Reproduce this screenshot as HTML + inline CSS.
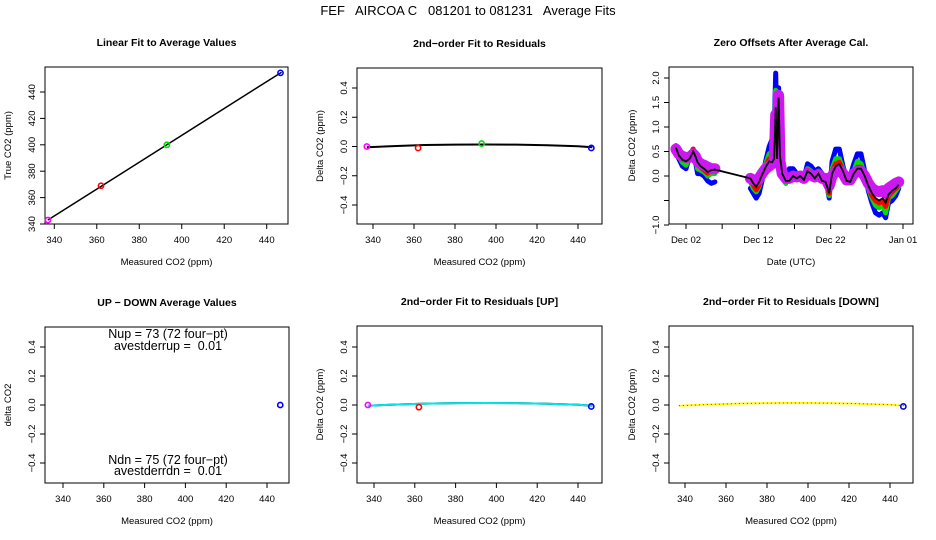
<!DOCTYPE html>
<html><head><meta charset="utf-8"><style>
html,body{margin:0;padding:0;background:#fff;}
svg{display:block;font-family:"Liberation Sans",sans-serif;}
</style></head><body>
<svg id="c" width="936" height="540" viewBox="0 0 936 540">
<defs>
<pattern id="hatch" width="3" height="3" patternUnits="userSpaceOnUse">
<rect width="3" height="3" fill="#ff00ff"/><rect width="1.5" height="1.5" fill="#9a30e0"/><rect x="1.5" y="1.5" width="1.5" height="1.5" fill="#9a30e0"/>
</pattern>
</defs>
<text x="468" y="15" text-anchor="middle" font-size="13" style="white-space:pre" xml:space="preserve">FEF   AIRCOA C   081201 to 081231   Average Fits</text>
</svg>
<script>
// ---- data ----
var p1X = [337, 362, 393, 446.5];
var p1Y = [343, 369, 400, 454.5];
var p1Colors = ['#ff00ff', '#ff0000', '#00dd00', '#0000ff'];
var p1FitX = [337, 447];
var p1FitY = [343, 455];

var resX = [337, 362, 393, 446.5];
var resY = [0.0, -0.01, 0.02, -0.01];
var fitX = [337, 350, 365, 380, 395, 410, 425, 440, 447];
var fitY = [-0.005, 0.003, 0.010, 0.013, 0.014, 0.013, 0.009, 0.002, -0.005];

var upX = [337, 362, 446.5];
var upY = [0.0, -0.015, -0.01];
var upColors = ['#ff00ff', '#ff0000', '#0000ff'];
var dnX = [446.5];
var dnY = [-0.01];
var udX = [446.5];
var udY = [0.0];

var T = [0.6,1.0,1.5,2.0,2.5,3.0,3.3,3.6,4.0,4.5,5.0,5.5,6.0,10.9,11.3,11.7,12.1,12.5,13.0,13.5,13.9,14.2,14.4,14.6,14.8,15.0,15.3,15.8,16.3,16.8,17.3,17.8,18.3,18.8,19.3,19.8,20.3,20.8,21.3,21.8,22.2,22.7,23.2,23.7,24.2,24.7,25.2,25.7,26.2,26.7,27.2,27.7,28.2,28.7,29.2,29.6,30.0,30.5,31.0,31.4];
var blackS = [0.58,0.42,0.33,0.30,0.35,0.50,0.40,0.28,0.20,0.15,0.08,0.12,0.13,-0.05,-0.15,-0.22,-0.12,0.02,0.18,0.30,0.28,0.35,1.40,0.35,1.60,0.40,0.05,-0.10,-0.10,0.00,-0.05,0.00,-0.08,0.10,0.05,-0.05,0.05,-0.10,-0.12,-0.35,0.05,0.20,0.25,0.10,-0.10,-0.12,0.05,0.15,0.15,0.00,-0.20,-0.35,-0.45,-0.50,-0.45,-0.55,-0.38,-0.30,-0.25,-0.18];
var blueS = [0.50,0.35,0.20,0.15,0.40,0.55,0.30,0.05,0.05,0.00,-0.10,-0.15,-0.12,-0.25,-0.35,-0.45,-0.35,-0.10,0.30,0.60,0.75,0.90,2.10,0.50,1.80,0.35,0.00,-0.15,0.15,0.15,0.05,0.05,-0.05,0.25,0.20,0.10,0.15,0.05,-0.05,-0.45,0.30,0.55,0.55,0.20,-0.05,0.00,0.25,0.45,0.45,0.10,-0.30,-0.55,-0.75,-0.80,-0.75,-0.85,-0.55,-0.50,-0.40,-0.25];
var greenS = [0.55,0.40,0.28,0.22,0.38,0.52,0.35,0.15,0.12,0.08,0.00,0.05,0.05,-0.12,-0.25,-0.32,-0.22,-0.02,0.25,0.45,0.50,0.55,1.75,0.40,1.65,0.35,0.02,-0.15,0.00,0.05,0.00,0.03,-0.05,0.15,0.10,0.00,0.10,-0.05,-0.10,-0.40,0.15,0.35,0.35,0.15,-0.08,-0.08,0.10,0.30,0.25,0.05,-0.25,-0.45,-0.60,-0.65,-0.60,-0.75,-0.45,-0.40,-0.30,-0.22];
var redS = [0.62,0.48,0.38,0.32,0.40,0.55,0.40,0.25,0.18,0.12,0.06,0.10,0.10,-0.08,-0.18,-0.28,-0.18,0.00,0.20,0.35,0.35,0.40,1.55,0.35,1.60,0.35,0.05,-0.10,-0.05,0.03,0.00,0.02,-0.05,0.12,0.08,0.00,0.08,-0.05,-0.10,-0.35,0.10,0.25,0.28,0.12,-0.08,-0.10,0.08,0.18,0.18,0.02,-0.22,-0.40,-0.50,-0.55,-0.50,-0.62,-0.40,-0.32,-0.25,-0.20];
var magS = [0.55,0.45,0.40,0.38,0.38,0.45,0.40,0.30,0.25,0.22,0.18,0.15,0.15,-0.05,-0.08,-0.10,-0.05,0.05,0.15,0.20,0.25,0.30,1.25,0.30,1.65,0.30,0.05,-0.05,-0.05,0.00,-0.02,0.00,-0.05,0.05,0.02,-0.02,0.03,-0.05,-0.05,-0.20,0.00,0.10,0.12,0.05,-0.08,-0.08,0.05,0.10,0.10,0.00,-0.15,-0.25,-0.30,-0.32,-0.30,-0.35,-0.25,-0.20,-0.15,-0.12];
var gapAfter = 6.0;

var co2Ticks = [340, 360, 380, 400, 420, 440];
var trueTicks = [340, 360, 380, 400, 420, 440];
var resTicks = [-0.4, -0.2, 0.0, 0.2, 0.4];
var resTickLabels = ['\u22120.4', '\u22120.2', '0.0', '0.2', '0.4'];
var offTicks = [-1.0, -0.5, 0.0, 0.5, 1.0, 1.5, 2.0];
var offTickLabels = ['\u22121.0', '', '0.0', '0.5', '1.0', '1.5', '2.0'];
var dateTicks = [2, 7, 12, 17, 22, 27, 32];
var dateTickLabels = ['Dec 02', '', 'Dec 12', '', 'Dec 22', '', 'Jan 01'];

// ---- helpers ----
var svg = document.getElementById('c');
var NS = 'http://www.w3.org/2000/svg';
function mk(tag, attrs, parent) {
  var e = document.createElementNS(NS, tag);
  for (var k in attrs) e.setAttribute(k, attrs[k]);
  (parent || svg).appendChild(e);
  return e;
}
function lin(v0, p0, v1, p1) { return function (v) { return p0 + (v - v0) * (p1 - p0) / (v1 - v0); }; }

function panel(o) {
  var g = mk('g', {});
  
  
  var box = mk('rect', {x: o.l, y: o.t, width: o.r - o.l, height: o.b - o.t, fill: 'none', stroke: '#000', 'stroke-width': 1}, g);
  
  
  var cx = (o.l + o.r) / 2;
  var tt = mk('text', {x: cx, y: o.t - 21, 'text-anchor': 'middle', 'font-size': 10.5, 'font-weight': 'bold'}, g);
  tt.textContent = o.title;
  
  
  var xa = mk('g', {}, g);
  
  
  o.xt.forEach(function (v, i) {
    var px = o.sx(v);
    mk('line', {x1: px, x2: px, y1: o.b, y2: o.b + 5, stroke: '#000'}, xa);
    var lab = o.xl ? o.xl[i] : String(v);
    if (lab) {
      var t = mk('text', {x: px, y: o.b + 19, 'text-anchor': 'middle', 'font-size': 9.5}, xa);
      t.textContent = lab;
      
      
    }
  });
  var xt = mk('text', {x: cx, y: o.b + 41, 'text-anchor': 'middle', 'font-size': 9.5}, g);
  xt.textContent = o.xtitle;
  
  
  var ya = mk('g', {}, g);
  
  
  o.yt.forEach(function (v, i) {
    var py = o.sy(v);
    mk('line', {x1: o.l - 5, x2: o.l, y1: py, y2: py, stroke: '#000'}, ya);
    var lab = o.yl ? o.yl[i] : String(v);
    if (lab) {
      var t = mk('text', {x: o.l - 10, y: py, 'text-anchor': 'middle', 'font-size': 9.5, transform: 'rotate(-90 ' + (o.l - 10) + ' ' + py + ')'}, ya);
      t.textContent = lab;
      
      
    }
  });
  var ymid = (o.t + o.b) / 2;
  var yx = o.l - 34;
  var yt = mk('text', {x: yx, y: ymid, 'text-anchor': 'middle', 'font-size': 9.5, transform: 'rotate(-90 ' + yx + ' ' + ymid + ')'}, g);
  yt.textContent = o.ytitle;
  
  
  return g;
}
function pts(xs, ys, sx, sy) { return xs.map(function (x, i) { return sx(x).toFixed(1) + ',' + sy(ys[i]).toFixed(1); }).join(' '); }
function circles(g, xs, ys, cols, sx, sy, name) {
  xs.forEach(function (x, i) {
    var c = mk('circle', {cx: sx(x), cy: sy(ys[i]), r: 2.6, fill: 'none', stroke: cols[i], 'stroke-width': 1.6}, g);
    
    
  });
}

// ---- panel 1 ----
var s1x = lin(340, 54.3, 440, 266.7), s1y = lin(340, 224, 440, 92);
var g1 = panel({name: 'linear-fit-panel', l: 45, r: 288, t: 67, b: 224, sx: s1x, sy: s1y, xt: co2Ticks, yt: trueTicks,
  title: 'Linear Fit to Average Values', xtitle: 'Measured CO2 (ppm)', ytitle: 'True CO2 (ppm)'});
var fl1 = mk('polyline', {points: pts(p1FitX, p1FitY, s1x, s1y), fill: 'none', stroke: '#000', 'stroke-width': 1.5}, g1);


circles(g1, p1X, p1Y, p1Colors, s1x, s1y, 'average-point');

// ---- panel 2 ----
var s2x = lin(340, 373, 440, 578), s2y = lin(-0.4, 205, 0.4, 88);
var g2 = panel({name: 'residual-fit-panel', l: 357, r: 602, t: 68, b: 224, sx: s2x, sy: s2y, xt: co2Ticks, yt: resTicks, yl: resTickLabels,
  title: '2nd\u2212order Fit to Residuals', xtitle: 'Measured CO2 (ppm)', ytitle: 'Delta CO2 (ppm)'});
var fl2 = mk('polyline', {points: pts(fitX, fitY, s2x, s2y), fill: 'none', stroke: '#000', 'stroke-width': 2}, g2);


circles(g2, resX, resY, p1Colors, s2x, s2y, 'residual-point');

// ---- panel 3 ----
var s3x = lin(2, 686, 32, 903), s3y = lin(0, 176, 2, 78);
var g3 = panel({name: 'zero-offsets-panel', l: 669, r: 913, t: 67, b: 224, sx: s3x, sy: s3y, xt: dateTicks, xl: dateTickLabels, yt: offTicks, yl: offTickLabels,
  title: 'Zero Offsets After Average Cal.', xtitle: 'Date (UTC)', ytitle: 'Delta CO2 (ppm)'});
function segPts(ys, seg) {
  var a = [];
  T.forEach(function (t, i) { if ((seg === 0 && t <= gapAfter) || (seg === 1 && t > gapAfter)) a.push(s3x(t).toFixed(1) + ',' + s3y(ys[i]).toFixed(1)); });
  return a.join(' ');
}
[['blue-offset-series', blueS, '#0000ff', 5], ['green-offset-series', greenS, '#00dd00', 5], ['red-offset-series', redS, '#ff0000', 5], ['magenta-offset-series', magS, 'url(#hatch)', 11]].forEach(function (s) {
  [0, 1].forEach(function (seg) {
    var pl = mk('polyline', {points: segPts(s[1], seg), fill: 'none', stroke: s[2], 'stroke-width': s[3], 'stroke-linejoin': 'round', 'stroke-linecap': 'round'}, g3);
    
    
  });
});
var bl = mk('polyline', {points: pts(T, blackS, s3x, s3y), fill: 'none', stroke: '#000', 'stroke-width': 1.8}, g3);



// ---- panel 4 ----
var s4x = lin(340, 63, 440, 267), s4y = lin(-0.4, 463, 0.4, 347);
var g4 = panel({name: 'up-down-panel', l: 45, r: 289, t: 327, b: 483, sx: s4x, sy: s4y, xt: co2Ticks, yt: resTicks, yl: resTickLabels,
  title: 'UP \u2212 DOWN Average Values', xtitle: 'Measured CO2 (ppm)', ytitle: 'delta CO2'});
circles(g4, udX, udY, ['#0000ff'], s4x, s4y, 'up-down-point');
[['Nup = 73 (72 four\u2212pt)', 338], ['avestderrup =  0.01', 350], ['Ndn = 75 (72 four\u2212pt)', 464], ['avestderrdn =  0.01', 475]].forEach(function (a) {
  var t = mk('text', {x: 168, y: a[1], 'text-anchor': 'middle', 'font-size': 12.5, style: 'white-space:pre'}, g4);
  t.textContent = a[0];
  
  
});

// ---- panel 5 ----
var s5x = lin(340, 374, 440, 578), s5y = lin(-0.4, 463, 0.4, 347);
var g5 = panel({name: 'residual-up-panel', l: 357, r: 602, t: 326, b: 483, sx: s5x, sy: s5y, xt: co2Ticks, yt: resTicks, yl: resTickLabels,
  title: '2nd\u2212order Fit to Residuals [UP]', xtitle: 'Measured CO2 (ppm)', ytitle: 'Delta CO2 (ppm)'});
var fl5b = mk('polyline', {points: pts(fitX, fitY, s5x, s5y), fill: 'none', stroke: '#000', 'stroke-width': 2}, g5);


var fl5 = mk('polyline', {points: pts(fitX, fitY, s5x, s5y), fill: 'none', stroke: '#00e5ee', 'stroke-width': 2}, g5);


circles(g5, upX, upY, upColors, s5x, s5y, 'residual-up-point');

// ---- panel 6 ----
var s6x = lin(340, 685, 440, 890), s6y = lin(-0.4, 463, 0.4, 347);
var g6 = panel({name: 'residual-down-panel', l: 669, r: 913, t: 326, b: 483, sx: s6x, sy: s6y, xt: co2Ticks, yt: resTicks, yl: resTickLabels,
  title: '2nd\u2212order Fit to Residuals [DOWN]', xtitle: 'Measured CO2 (ppm)', ytitle: 'Delta CO2 (ppm)'});
var fl6 = mk('polyline', {points: pts(fitX, fitY, s6x, s6y), fill: 'none', stroke: '#ffff00', 'stroke-width': 2}, g6);


var fl6r = mk('polyline', {points: pts(fitX, fitY, s6x, s6y), fill: 'none', stroke: '#ff0000', 'stroke-width': 1, 'stroke-dasharray': '1 3'}, g6);


circles(g6, dnX, dnY, ['#0000ff'], s6x, s6y, 'residual-down-point');
</script>
</body></html>
